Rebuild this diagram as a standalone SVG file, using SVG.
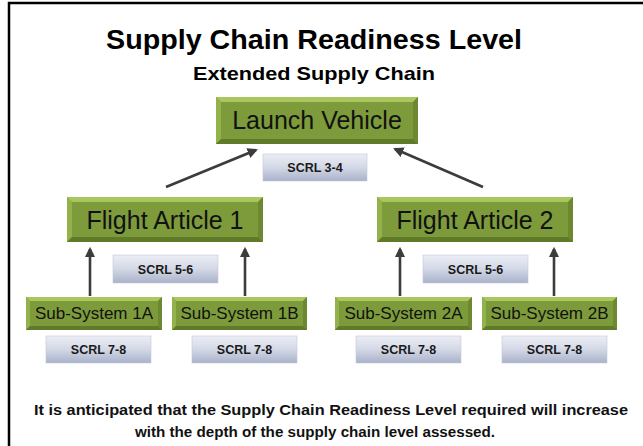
<svg xmlns="http://www.w3.org/2000/svg" width="643" height="446" viewBox="0 0 643 446">
  <defs>
    <linearGradient id="scrlFill" x1="0" y1="0" x2="0" y2="1">
      <stop offset="0" stop-color="#eceef5"/>
      <stop offset="0.5" stop-color="#d3d8e6"/>
      <stop offset="1" stop-color="#a9b2ca"/>
    </linearGradient>
    <marker id="arrowHead" viewBox="0 0 10 10" refX="8" refY="5" markerWidth="4" markerHeight="4" orient="auto" markerUnits="strokeWidth">
      <path d="M0,0 L10,5 L0,10 Z" fill="#3c3c3c"/>
    </marker>
  </defs>
  <style>
    .frame { fill: none; stroke: #000; stroke-width: 2.5; }
    .title { font-family: "Liberation Sans", Arial, sans-serif; font-weight: bold; fill: #000; text-anchor: middle; }
    .face { fill: #7d9b3b; }
    .bev-top { fill: #aac75f; }
    .bev-left { fill: #92b24c; }
    .bev-right { fill: #6c8830; }
    .bev-bot { fill: #5f7a29; }
    .nlabel { font-family: "Liberation Sans", Arial, sans-serif; fill: #111; text-anchor: middle; }
    .scrl rect { fill: url(#scrlFill); stroke: #c3c8d6; stroke-width: 0.6; }
    .scrl text { font-family: "Liberation Sans", Arial, sans-serif; font-weight: bold; font-size: 12.5px; fill: #1a1a1a; text-anchor: middle; }
    .link { stroke: #3c3c3c; stroke-width: 2.6; fill: none; marker-end: url(#arrowHead); }
    .note { font-family: "Liberation Sans", Arial, sans-serif; font-weight: bold; font-size: 14px; fill: #111; text-anchor: middle; }
  </style>

  <rect width="643" height="446" fill="#fff"/>
  <rect class="frame" x="9" y="3" width="700" height="500"/>

  <text class="title" x="314" y="49" font-size="28" textLength="416" lengthAdjust="spacingAndGlyphs">Supply Chain Readiness Level</text>
  <text class="title" x="314" y="80" font-size="19" textLength="242" lengthAdjust="spacingAndGlyphs">Extended Supply Chain</text>

  <g id="connectors">
    <line class="link" x1="166" y1="187" x2="256" y2="150"/>
    <line class="link" x1="483" y1="187" x2="395" y2="149"/>
    <line class="link" x1="90" y1="296" x2="90" y2="249"/>
    <line class="link" x1="245" y1="296" x2="245" y2="249"/>
    <line class="link" x1="400" y1="296" x2="400" y2="249"/>
    <line class="link" x1="554" y1="296" x2="554" y2="249"/>
  </g>

  <g id="launch-vehicle">
    <rect class="face" x="216" y="97" width="202" height="47"/>
    <path class="bev-top" d="M216,97 H418 L413,102 H221 Z"/>
    <path class="bev-left" d="M216,97 L221,102 V139 L216,144 Z"/>
    <path class="bev-right" d="M418,97 V144 L413,139 V102 Z"/>
    <path class="bev-bot" d="M216,144 L221,139 H413 L418,144 Z"/>
    <text class="nlabel" x="317" y="129" font-size="25">Launch Vehicle</text>
  </g>

  <g id="flight-article-1">
    <rect class="face" x="67" y="197" width="196" height="45"/>
    <path class="bev-top" d="M67,197 H263 L258,202 H72 Z"/>
    <path class="bev-left" d="M67,197 L72,202 V237 L67,242 Z"/>
    <path class="bev-right" d="M263,197 V242 L258,237 V202 Z"/>
    <path class="bev-bot" d="M67,242 L72,237 H258 L263,242 Z"/>
    <text class="nlabel" x="165" y="229" font-size="25">Flight Article 1</text>
  </g>

  <g id="flight-article-2">
    <rect class="face" x="377" y="197" width="196" height="45"/>
    <path class="bev-top" d="M377,197 H573 L568,202 H382 Z"/>
    <path class="bev-left" d="M377,197 L382,202 V237 L377,242 Z"/>
    <path class="bev-right" d="M573,197 V242 L568,237 V202 Z"/>
    <path class="bev-bot" d="M377,242 L382,237 H568 L573,242 Z"/>
    <text class="nlabel" x="475" y="229" font-size="25">Flight Article 2</text>
  </g>

  <g id="sub-system-1a">
    <rect class="face" x="26" y="297" width="136" height="33"/>
    <path class="bev-top" d="M26,297 H162 L158,301 H30 Z"/>
    <path class="bev-left" d="M26,297 L30,301 V326 L26,330 Z"/>
    <path class="bev-right" d="M162,297 V330 L158,326 V301 Z"/>
    <path class="bev-bot" d="M26,330 L30,326 H158 L162,330 Z"/>
    <text class="nlabel" x="94" y="319" font-size="17">Sub-System 1A</text>
  </g>

  <g id="sub-system-1b">
    <rect class="face" x="172" y="297" width="135" height="33"/>
    <path class="bev-top" d="M172,297 H307 L303,301 H176 Z"/>
    <path class="bev-left" d="M172,297 L176,301 V326 L172,330 Z"/>
    <path class="bev-right" d="M307,297 V330 L303,326 V301 Z"/>
    <path class="bev-bot" d="M172,330 L176,326 H303 L307,330 Z"/>
    <text class="nlabel" x="239.5" y="319" font-size="17">Sub-System 1B</text>
  </g>

  <g id="sub-system-2a">
    <rect class="face" x="335" y="297" width="137" height="33"/>
    <path class="bev-top" d="M335,297 H472 L468,301 H339 Z"/>
    <path class="bev-left" d="M335,297 L339,301 V326 L335,330 Z"/>
    <path class="bev-right" d="M472,297 V330 L468,326 V301 Z"/>
    <path class="bev-bot" d="M335,330 L339,326 H468 L472,330 Z"/>
    <text class="nlabel" x="403.5" y="319" font-size="17">Sub-System 2A</text>
  </g>

  <g id="sub-system-2b">
    <rect class="face" x="482" y="297" width="135" height="33"/>
    <path class="bev-top" d="M482,297 H617 L613,301 H486 Z"/>
    <path class="bev-left" d="M482,297 L486,301 V326 L482,330 Z"/>
    <path class="bev-right" d="M617,297 V330 L613,326 V301 Z"/>
    <path class="bev-bot" d="M482,330 L486,326 H613 L617,330 Z"/>
    <text class="nlabel" x="549.5" y="319" font-size="17">Sub-System 2B</text>
  </g>

  <g id="scrl-3-4" class="scrl">
    <rect x="263" y="154" width="104" height="27"/>
    <text x="315" y="172">SCRL 3-4</text>
  </g>
  <g id="scrl-5-6-left" class="scrl">
    <rect x="113" y="255" width="105" height="28"/>
    <text x="165.5" y="273.5">SCRL 5-6</text>
  </g>
  <g id="scrl-5-6-right" class="scrl">
    <rect x="423" y="255" width="105" height="28"/>
    <text x="475.5" y="273.5">SCRL 5-6</text>
  </g>
  <g id="scrl-7-8-1a" class="scrl">
    <rect x="46" y="336" width="105" height="27"/>
    <text x="98.5" y="354">SCRL 7-8</text>
  </g>
  <g id="scrl-7-8-1b" class="scrl">
    <rect x="192" y="336" width="105" height="27"/>
    <text x="244.5" y="354">SCRL 7-8</text>
  </g>
  <g id="scrl-7-8-2a" class="scrl">
    <rect x="356" y="336" width="105" height="27"/>
    <text x="408.5" y="354">SCRL 7-8</text>
  </g>
  <g id="scrl-7-8-2b" class="scrl">
    <rect x="502" y="336" width="105" height="27"/>
    <text x="554.5" y="354">SCRL 7-8</text>
  </g>

  <text class="note" x="331" y="415" textLength="594" lengthAdjust="spacingAndGlyphs">It is anticipated that the Supply Chain Readiness Level required will increase</text>
  <text class="note" x="315" y="437" textLength="360" lengthAdjust="spacingAndGlyphs">with the depth of the supply chain level assessed.</text>
</svg>
